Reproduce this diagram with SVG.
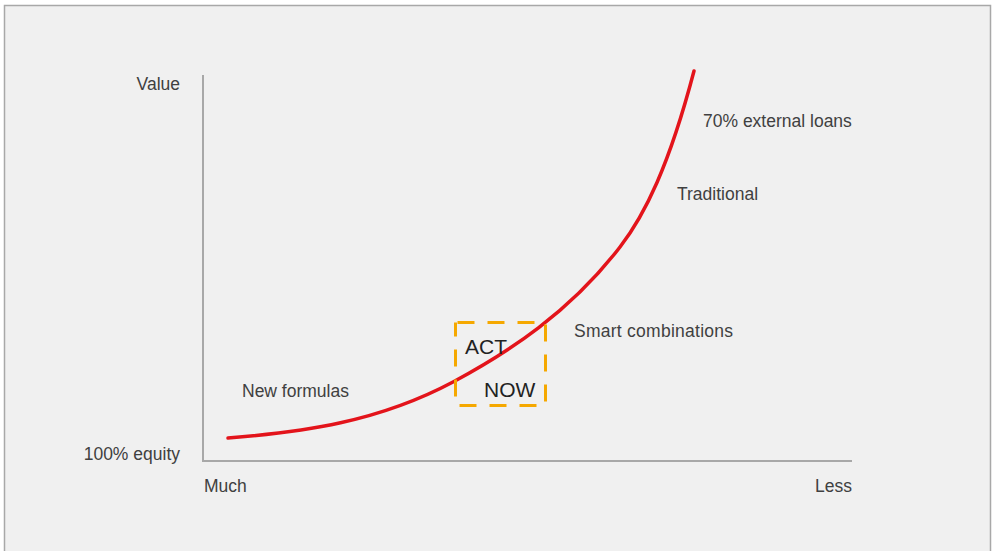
<svg xmlns="http://www.w3.org/2000/svg" width="995" height="551" viewBox="0 0 995 551">
<style>
.t{font-family:"Liberation Sans",Arial,sans-serif;font-size:17.5px;fill:#404040}
.b{font-family:"Liberation Sans",Arial,sans-serif;font-size:21px;fill:#222}
.ax{stroke:#a8a8a8;stroke-width:2;fill:none}
</style>
<rect x="0" y="0" width="995" height="551" fill="#ffffff"/>
<rect x="4.5" y="5.5" width="986" height="560" fill="#f0f0f0" stroke="#a8a8a8" stroke-width="1.5"/>
<g id="axes">
<line class="ax" x1="203" y1="75" x2="203" y2="461"/>
<line class="ax" x1="202" y1="461" x2="852" y2="461"/>
</g>
<g id="labels">
<text class="t" x="180" y="90" text-anchor="end">Value</text>
<text class="t" x="180" y="460" text-anchor="end">100% equity</text>
<text class="t" x="204" y="492">Much</text>
<text class="t" x="852" y="492" text-anchor="end">Less</text>
<text class="t" x="703" y="127">70% external loans</text>
<text class="t" x="677" y="200">Traditional</text>
<text class="t" x="574" y="337" textLength="159">Smart combinations</text>
<text class="t" x="242" y="397">New formulas</text>
</g>
<g id="connectors">
<path d="M228,438 C303,432 378,422 453,382 C509,352 570,312 620,247 C645,214.5 669,166 694,71" fill="none" stroke="#e3141b" stroke-width="3.5" stroke-linecap="round"/>
</g>
<g id="act-now">
<rect x="455.5" y="322.5" width="90" height="83" fill="none" stroke="#f5a800" stroke-width="3" stroke-dasharray="17,13" stroke-dashoffset="-2"/>
<text class="b" x="465" y="354">ACT</text>
<text class="b" x="484" y="397">NOW</text>
</g>
</svg>
